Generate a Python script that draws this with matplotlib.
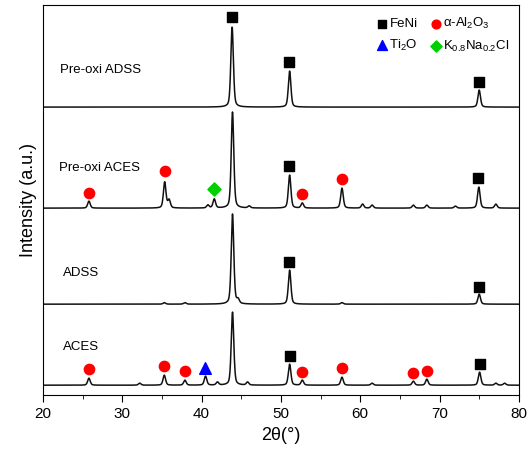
import numpy as np
import matplotlib.pyplot as plt

plt.rcParams['font.family'] = ['Liberation Sans', 'DejaVu Sans']
plt.rcParams['mathtext.default'] = 'regular'

# vertical offset of each pattern (a.u.)
names = ['ACES', 'ADSS', 'Pre-oxi ACES', 'Pre-oxi ADSS']
offsets = [10, 91, 187, 288]

# peak positions (2theta) and heights
aces_pos = [25.8, 32.2, 35.3, 37.9, 40.5, 42.0, 43.9, 45.8, 51.1, 52.7, 57.7, 61.5, 66.7, 68.4, 75.05, 77.1, 78.2]
aces_hgt = [7, 2, 10, 5, 9, 3, 73, 3, 21, 5, 8, 2, 4, 6, 13, 2, 2]

adss_pos = [35.3, 37.9, 43.9, 44.6, 51.1, 57.7, 75.0]
adss_hgt = [1.5, 1.5, 90, 4, 34, 1.5, 10]

preaces_pos = [25.8, 35.35, 35.9, 40.8, 41.6, 43.9, 46.0, 51.1, 52.7, 57.7, 60.3, 61.5, 66.7, 68.4, 72.0, 74.95, 77.1]
preaces_hgt = [7, 26, 8, 3, 9, 96, 2, 33, 5, 20, 4, 3, 3, 3, 2, 21, 4]

preadss_pos = [43.85, 51.1, 75.0]
preadss_hgt = [80, 36, 17]

# phase markers (2theta, height)
fen_x = [51.1, 75.05, 51.07, 75.0, 51.07, 74.9, 43.86, 51.07, 75.0]
fen_y = [39, 31, 133, 108, 229, 217, 378, 333, 313]
al_x = [25.8, 35.3, 37.9, 52.7, 57.7, 66.7, 68.4, 25.8, 35.35, 52.7, 57.7]
al_y = [26, 29, 24, 23, 27, 22, 24, 202, 224, 201, 216]
ti_x = [40.4]
ti_y = [27]
kna_x = [41.6]
kna_y = [206]


def pattern(x, pos, hgt, w=0.38):
    y = np.zeros_like(x)
    for p, h in zip(pos, hgt):
        g = np.exp(-4 * np.log(2) * ((x - p) / w) ** 2)
        l = 1 / (1 + 4 * ((x - p) / w) ** 2)
        y += h * (0.6 * g + 0.4 * l)
    return y


x = np.linspace(20, 80, 3001)
peaks = [(aces_pos, aces_hgt), (adss_pos, adss_hgt),
         (preaces_pos, preaces_hgt), (preadss_pos, preadss_hgt)]

fig = plt.figure(figsize=(5.30, 4.59), dpi=100)
ax = fig.add_axes([0.081, 0.139, 0.898, 0.850])

for (pos, hgt), off in zip(peaks, offsets):
    ax.plot(x, pattern(x, pos, hgt) + off, color='#111111', lw=1.1)

label_x = [22.5, 22.5, 22.05, 22.1]
label_y = [48, 122, 227, 325]
for n, lx, ly in zip(names, label_x, label_y):
    ax.text(lx, ly, n, fontsize=9.5, va='center', ha='left')

h1 = ax.scatter(fen_x, fen_y, marker='s', s=50, c='black', zorder=5, label='FeNi')
h2 = ax.scatter(ti_x, ti_y, marker='^', s=70, c='#0000ff', zorder=5, label='Ti$_2$O')
h3 = ax.scatter(al_x, al_y, marker='o', s=55, c='#ff0000', zorder=5, label='α-Al$_2$O$_3$')
h4 = ax.scatter(kna_x, kna_y, marker='D', s=45, c='#00d000', zorder=5,
                label='K$_{0.8}$Na$_{0.2}$Cl')
ax.legend(handles=[h1, h2, h3, h4], ncol=2, loc='upper right',
          bbox_to_anchor=(1.0, 0.995), frameon=False, fontsize=9.5,
          handletextpad=0.05, columnspacing=0.9, handlelength=1.0,
          labelspacing=0.55, borderaxespad=0.3, markerscale=0.85)

ax.set_xlim(20, 80)
ax.set_ylim(0, 390)
ax.set_xticks(range(20, 81, 10))
ax.set_xticks(range(25, 80, 10), minor=True)
ax.set_yticks([])
ax.tick_params(axis='x', direction='out', length=5, labelsize=11)
ax.tick_params(axis='x', which='minor', direction='out', length=3)
ax.set_xlabel('2θ(°)', fontsize=13)
ax.set_ylabel('Intensity (a.u.)', fontsize=13)

fig.savefig('out.png', dpi=100)
